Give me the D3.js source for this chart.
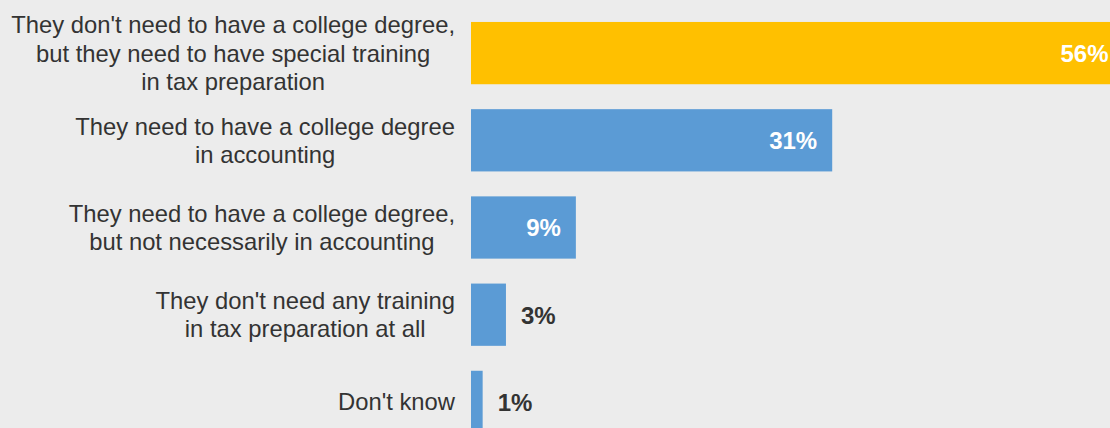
<!DOCTYPE html>
<html>
<head>
<meta charset="utf-8">
<script src="https://cdn.jsdelivr.net/npm/d3@7/dist/d3.min.js"></script>
<style>
  html, body { margin: 0; padding: 0; background: #ececec; }
  svg { display: block; }
  text { font-family: "Liberation Sans", Arial, sans-serif; }
</style>
</head>
<body>
<svg id="chart" width="1110" height="428"></svg>
<script>
// Survey answers, each label split into its display lines
const categories = [
  ["They don't need to have a college degree,", "but they need to have special training", "in tax preparation"],
  ["They need to have a college degree", "in accounting"],
  ["They need to have a college degree,", "but not necessarily in accounting"],
  ["They don't need any training", "in tax preparation at all"],
  ["Don't know"]
];
const values = [56, 31, 9, 3, 1];
const highlighted = [true, false, false, false, false];

const svg = d3.select("#chart");

const keys = categories.map((c, i) => i);

const x = d3.scaleLinear().domain([0, 56]).range([471, 1123.5]);
const y = d3.scaleBand().domain(keys).range([9.5, 445.5])
  .paddingInner(0.286).paddingOuter(0.143);

const gold = "#ffc000", blue = "#5b9bd5", ink = "#333333";

// bars
svg.append("g").selectAll("rect").data(keys).join("rect")
  .attr("x", x(0))
  .attr("y", i => y(i))
  .attr("width", i => x(values[i]) - x(0))
  .attr("height", y.bandwidth())
  .attr("fill", i => highlighted[i] ? gold : blue);

// value labels: inside the bar when it is wide enough, otherwise just past its end
svg.append("g").selectAll("text").data(keys).join("text")
  .attr("y", i => y(i) + y.bandwidth() / 2)
  .attr("dy", "0.37em")
  .attr("font-size", 24)
  .attr("font-weight", "bold")
  .each(function(i) {
    const inside = values[i] >= 5;
    d3.select(this)
      .attr("x", inside ? x(values[i]) - 15 : x(values[i]) + 15)
      .attr("text-anchor", inside ? "end" : "start")
      .attr("fill", inside ? "#ffffff" : ink)
      .text(values[i] + "%");
  });

// category labels: lines centred on one another, block right edge near the bars
const labelRight = 455, lineH = 28.2;
const lab = svg.append("g").selectAll("text").data(keys).join("text")
  .attr("font-size", 23.8)
  .attr("fill", ink)
  .attr("text-anchor", "middle");

lab.each(function(i) {
  const t = d3.select(this);
  const lines = categories[i];
  const cy = y(i) + y.bandwidth() / 2;
  lines.forEach((ln, k) => {
    t.append("tspan")
      .attr("y", cy + 8.5 + (k - (lines.length - 1) / 2) * lineH)
      .text(ln);
  });
  let maxW = 0;
  t.selectAll("tspan").each(function() {
    maxW = Math.max(maxW, this.getComputedTextLength());
  });
  t.selectAll("tspan").attr("x", labelRight - maxW / 2);
});
</script>
</body>
</html>
